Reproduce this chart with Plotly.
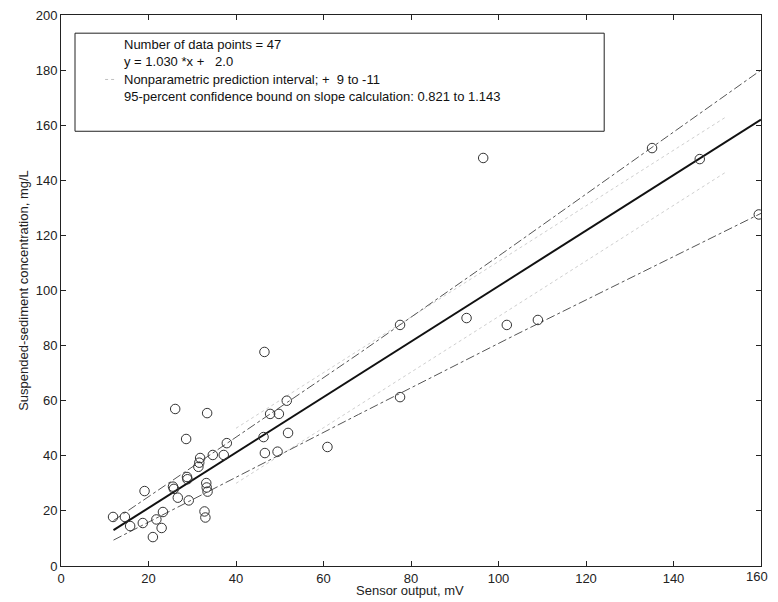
import plotly.graph_objects as go

# Observed data points (sensor output mV, SSC mg/L)
sensor_mv = [11.9, 14.6, 15.8, 18.7, 19.1, 21.0, 21.8, 23.0, 23.3, 25.6,
             26.1, 26.7, 28.6, 28.8, 29.2, 31.4, 31.8, 32.8, 33.0, 33.2,
             33.4, 33.5, 34.7, 37.2, 37.9, 46.3, 46.5, 46.6, 47.8, 49.5,
             49.8, 51.6, 51.9, 60.9, 77.5, 77.5, 92.7, 96.5, 101.9, 109.0,
             135.1, 146.0, 159.5, 28.9, 25.8, 31.6, 33.3]
ssc_mgl = [17.8, 17.8, 14.5, 15.6, 27.2, 10.5, 16.9, 13.8, 19.6, 28.8,
           57.0, 24.8, 46.1, 32.3, 23.8, 36.0, 39.2, 19.8, 17.6, 30.1,
           55.5, 27.0, 40.3, 40.3, 44.6, 46.8, 77.7, 41.0, 55.2, 41.5,
           55.2, 60.0, 48.3, 43.2, 87.5, 61.3, 90.0, 148.1, 87.5, 89.3,
           151.7, 147.7, 127.6, 31.5, 28.0, 37.5, 28.5]

# Regression line
fit_x = [12, 160]
fit_y = [13.0, 162.0]

# Outer dash-dot bounds
upper_x = [12, 68, 101, 160]
upper_y = [16.5, 77.0, 113.6, 180.0]
lower_x = [12, 55, 68, 104, 160]
lower_y = [9.4, 44.6, 55.0, 84.0, 128.0]

# Nonparametric prediction interval (faint dotted)
pi_x = [40, 152]
pi_upper = [50.0, 163.0]
pi_lower = [30.0, 143.0]

x_ticks = [0, 20, 40, 60, 80, 100, 120, 140, 160]
x_tick_labels = ["0", "20", "40", "60", "80", "100", "120", "140", "160"]
y_ticks = [0, 20, 40, 60, 80, 100, 120, 140, 160, 180, 200]

x_title = "Sensor output, mV"
y_title = "Suspended-sediment concentration, mg/L"
legend_lines = ["Number of data points = 47",
                "y = 1.030 *x +   2.0",
                "Nonparametric prediction interval; +  9 to -11",
                "95-percent confidence bound on slope calculation: 0.821 to 1.143"]

FONT = "Liberation Sans, Arial"
TXT = dict(family=FONT, size=13, color="#222")

fig = go.Figure()
fig.add_trace(go.Scatter(x=pi_x, y=pi_upper, mode="lines",
                         line=dict(color="#cfcfcf", width=1, dash="dot"), hoverinfo="skip"))
fig.add_trace(go.Scatter(x=pi_x, y=pi_lower, mode="lines",
                         line=dict(color="#cfcfcf", width=1, dash="dot"), hoverinfo="skip"))
fig.add_trace(go.Scatter(x=upper_x, y=upper_y, mode="lines",
                         line=dict(color="#555", width=1, dash="dashdot")))
fig.add_trace(go.Scatter(x=lower_x, y=lower_y, mode="lines",
                         line=dict(color="#555", width=1, dash="dashdot")))
fig.add_trace(go.Scatter(x=fit_x, y=fit_y, mode="lines",
                         line=dict(color="#111", width=2)))
fig.add_trace(go.Scatter(x=sensor_mv, y=ssc_mgl, mode="markers",
                         marker=dict(symbol="circle-open", size=9.5, color="#333",
                                     line=dict(width=1, color="#333"))))

axis_common = dict(showgrid=False, zeroline=False, ticks="inside", ticklen=5,
                   mirror="ticks", showline=True, linecolor="#222", linewidth=1,
                   automargin=False, ticklabeloverflow="allow",
                   tickcolor="#222", tickfont=TXT)

# last x label is drawn separately so it stays inside the page edge
fig.update_xaxes(range=[0, 160], tickvals=x_ticks,
                 ticktext=x_tick_labels[:-1] + [""], **axis_common)
fig.update_yaxes(range=[0, 200], tickvals=y_ticks, **axis_common,
                 title=dict(text=y_title, standoff=4, font=TXT))

fig.add_annotation(xref="paper", yref="paper", x=1, y=0, text=x_tick_labels[-1],
                   showarrow=False, xanchor="right", yanchor="top", xshift=9, yshift=-1,
                   font=TXT)
fig.add_annotation(xref="paper", yref="paper", x=0.499, y=-0.0436, text=x_title,
                   showarrow=False, xanchor="center", yanchor="middle", font=TXT)

# Legend box
fig.add_shape(type="rect", xref="paper", yref="paper", x0=0.02, x1=0.776, y0=0.789, y1=0.967,
              line=dict(color="#222", width=1), fillcolor="white", layer="above")
ys = [0.946, 0.915, 0.883, 0.852]
for txt, yy in zip(legend_lines, ys):
    fig.add_annotation(xref="paper", yref="paper", x=0.087, y=yy, text=txt, showarrow=False,
                       xanchor="left", yanchor="middle",
                       font=dict(family=FONT, size=13, color="#111"))
fig.add_shape(type="line", xref="paper", yref="paper", x0=0.063, x1=0.078, y0=0.883, y1=0.883,
              line=dict(color="#c0c0c0", width=1, dash="dot"))

fig.update_layout(width=762, height=594, showlegend=False,
                  margin=dict(l=53, r=9, t=7, b=36),
                  paper_bgcolor="white", plot_bgcolor="white")

fig.write_html("out.html")
